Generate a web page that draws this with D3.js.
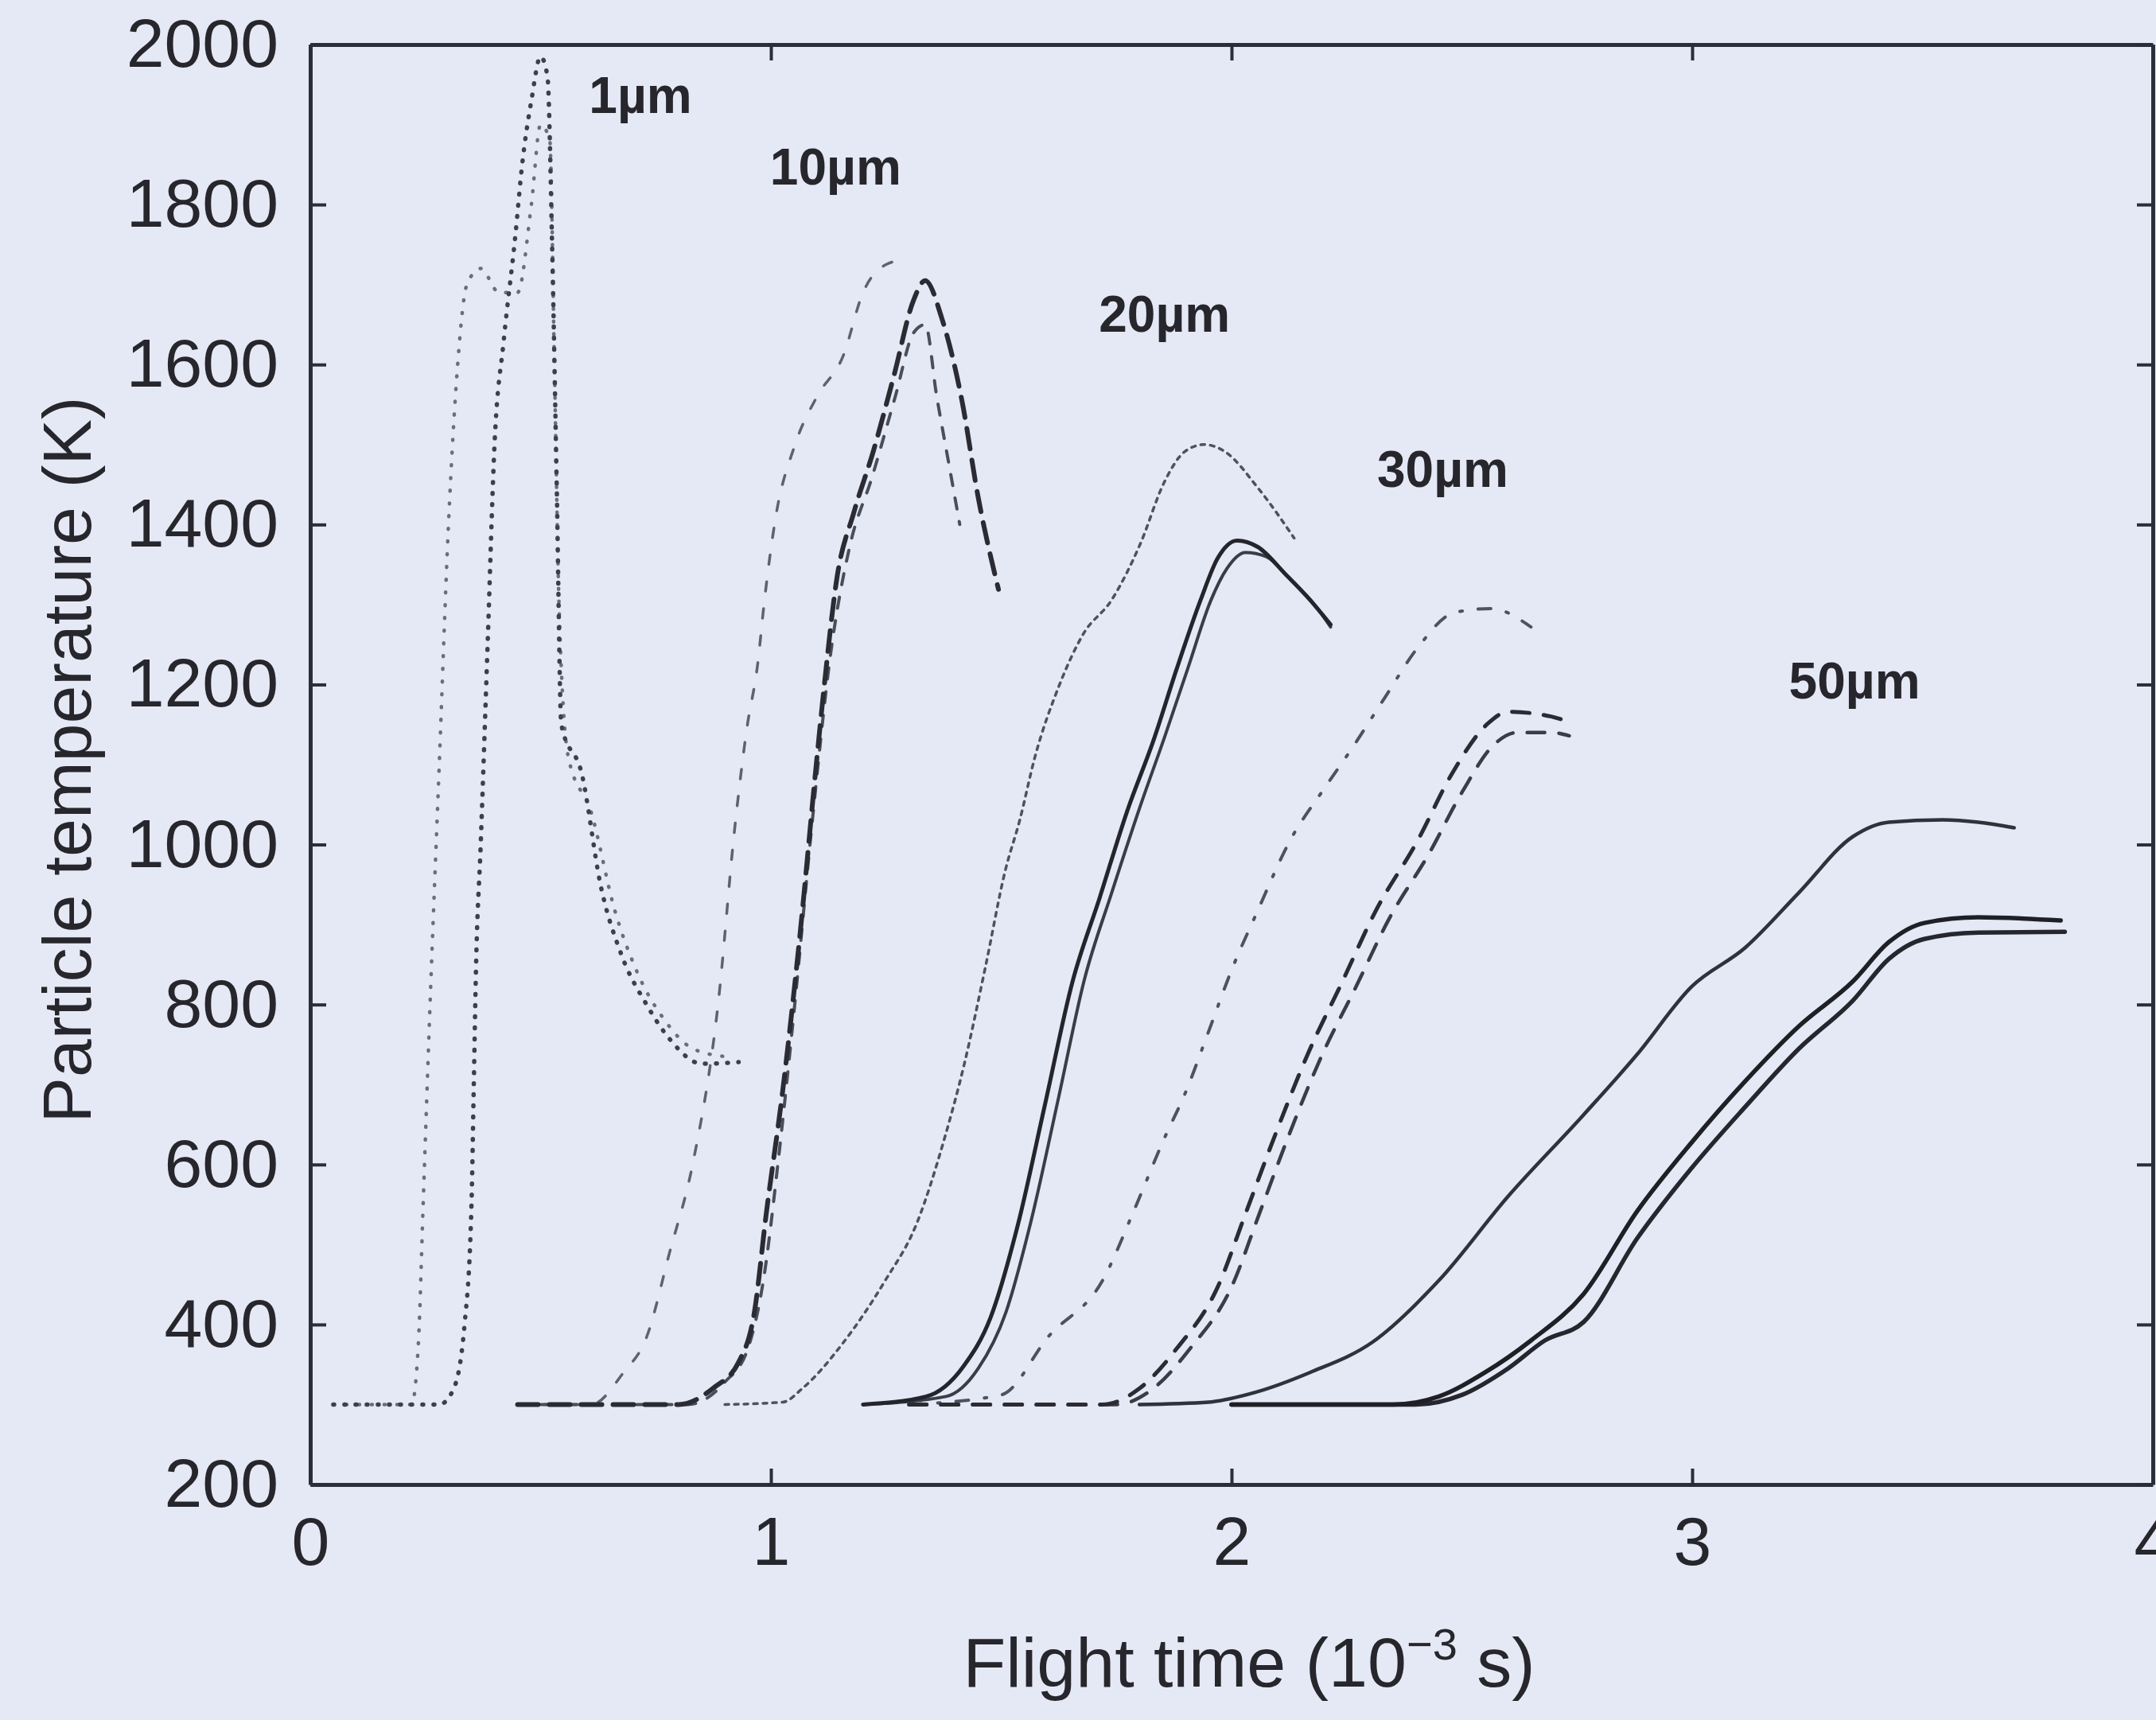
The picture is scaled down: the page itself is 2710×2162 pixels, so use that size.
<!DOCTYPE html>
<html>
<head>
<meta charset="utf-8">
<script src="https://cdn.jsdelivr.net/npm/d3@7"></script>
<style>
  body { margin: 0; background: #e5e9f5; }
  svg { display: block; }
  text { font-family: "Liberation Sans", Arial, Helvetica, sans-serif; fill: #26262c; }
  .axis path, .axis line { stroke: #2b2d38; }
  .axis path { stroke-width: 5; }
  .axis line { stroke-width: 4; }
  .axis text { font-size: 86px; fill: #26262c; }
  .curve { fill: none; stroke-linecap: round; stroke-linejoin: round; }
</style>
</head>
<body>
<svg id="chart" width="2710" height="2162"></svg>
<script>
// flight time (10^-3 s), particle temperature (K)

// 1 um  (dotted)
var d1a = [[0.05,300],[0.28,300],[0.31,318],[0.335,400],[0.35,550],[0.355,700],[0.36,850],[0.37,1000],[0.385,1250],[0.40,1500],[0.42,1630],[0.445,1760],[0.46,1850],[0.48,1930],[0.50,1985],[0.515,1960],[0.525,1750],[0.535,1450],[0.545,1150],[0.59,1087],[0.63,950],[0.675,863],[0.73,800],[0.78,757],[0.85,726],[0.93,728]];
var d1b = [[0.05,300],[0.22,300],[0.235,380],[0.245,550],[0.26,800],[0.28,1100],[0.30,1400],[0.32,1600],[0.34,1700],[0.37,1720],[0.41,1690],[0.45,1690],[0.48,1800],[0.50,1900],[0.52,1880],[0.53,1600],[0.54,1300],[0.56,1110],[0.61,1040],[0.66,920],[0.71,840],[0.77,780],[0.83,745],[0.90,735]];

// 10 um (dashed)
var d10a = [[0.45,300],[0.61,300],[0.68,340],[0.73,384],[0.78,490],[0.83,600],[0.886,804],[0.921,1018],[0.947,1142],[0.972,1229],[0.985,1300],[1.01,1408],[1.05,1496],[1.10,1560],[1.157,1611],[1.20,1690],[1.25,1725],[1.29,1731]];
var d10b = [[0.45,300],[0.80,300],[0.876,321],[0.93,353],[0.964,415],[0.99,539],[1.026,694],[1.062,881],[1.10,1109],[1.117,1205],[1.143,1332],[1.18,1415],[1.222,1491],[1.267,1586],[1.31,1681],[1.335,1705],[1.372,1656],[1.415,1554],[1.45,1434],[1.494,1319]];
var d10c = [[0.45,300],[0.82,300],[0.90,328],[0.95,370],[0.985,460],[1.015,600],[1.05,790],[1.09,1030],[1.13,1240],[1.17,1370],[1.22,1460],[1.27,1560],[1.31,1640],[1.335,1650],[1.36,1560],[1.385,1480],[1.41,1400]];

// 20 um
var d20a = [[0.90,300],[1.026,303],[1.07,321],[1.158,378],[1.246,453],[1.317,527],[1.377,633],[1.42,726],[1.465,845],[1.509,968],[1.54,1030],[1.573,1109],[1.626,1199],[1.678,1263],[1.74,1306],[1.802,1376],[1.854,1453],[1.898,1491],[1.94,1500],[1.986,1491],[2.057,1446],[2.136,1383]];
var d20b = [[1.20,300],[1.337,310],[1.417,347],[1.477,409],[1.535,522],[1.595,675],[1.654,827],[1.714,934],[1.773,1041],[1.831,1131],[1.88,1218],[1.933,1306],[1.969,1357],[2.012,1380],[2.057,1372],[2.117,1338],[2.17,1306],[2.215,1275]];
var d20c = [[1.20,300],[1.38,310],[1.45,345],[1.51,415],[1.565,530],[1.625,685],[1.68,830],[1.74,940],[1.80,1045],[1.855,1135],[1.905,1220],[1.955,1305],[1.99,1345],[2.03,1365],[2.075,1360],[2.13,1330],[2.18,1300],[2.215,1272]];

// 30 um
var d30a = [[1.30,300],[1.50,312],[1.604,386],[1.72,455],[1.79,545],[1.852,630],[1.90,690],[1.95,766],[2.00,843],[2.055,915],[2.127,1005],[2.20,1069],[2.26,1119],[2.332,1183],[2.404,1246],[2.484,1290],[2.563,1295],[2.65,1272]];
var d30b = [[1.30,300],[1.72,300],[1.80,320],[1.881,370],[1.97,447],[2.03,538],[2.09,630],[2.167,740],[2.24,828],[2.312,916],[2.404,1005],[2.477,1087],[2.556,1151],[2.60,1166],[2.694,1160],[2.733,1153]];
var d30c = [[1.30,300],[1.75,300],[1.83,320],[1.91,370],[2.00,447],[2.06,538],[2.12,630],[2.195,735],[2.27,822],[2.34,905],[2.43,990],[2.50,1065],[2.57,1125],[2.62,1140],[2.694,1140],[2.733,1136]];

// 50 um (solid)
var d50a = [[1.80,300],[1.95,303],[2.05,315],[2.17,340],[2.306,378],[2.45,455],[2.60,560],[2.764,662],[2.881,738],[2.998,822],[3.115,871],[3.232,940],[3.349,1010],[3.427,1028],[3.544,1031],[3.621,1028],[3.699,1021]];
var d50b = [[2.00,300],[2.35,300],[2.45,310],[2.55,340],[2.65,380],[2.764,438],[2.881,542],[2.998,627],[3.115,704],[3.232,773],[3.349,829],[3.427,878],[3.504,902],[3.621,909],[3.80,905]];
var d50c = [[2.00,300],[2.40,300],[2.50,312],[2.60,345],[2.68,380],[2.764,403],[2.881,508],[2.998,595],[3.115,672],[3.232,745],[3.349,805],[3.427,857],[3.504,882],[3.621,890],[3.809,891]];

var xTicks = [0, 1, 2, 3, 4];
var yTicks = [200, 400, 600, 800, 1000, 1200, 1400, 1600, 1800, 2000];

var sizeLabels = ["1µm", "10µm", "20µm", "30µm", "50µm"];
var labelAt = [[0.605, 1914], [0.998, 1825], [1.712, 1641], [2.316, 1447], [3.21, 1183]];

// line look for each curve
var curves = [
  { d: d1b,  color: "#6a6e7c", w: 4.5, dash: "1 15" },
  { d: d1a,  color: "#3c3f4c", w: 5.5, dash: "1 13" },
  { d: d10a, color: "#5e6270", w: 3.5, dash: "12 22" },
  { d: d10c, color: "#4a4d5a", w: 4,   dash: "14 16" },
  { d: d10b, color: "#2a2b33", w: 6,   dash: "26 14" },
  { d: d20a, color: "#4e5160", w: 3.5, dash: "5 7" },
  { d: d20c, color: "#3a3c46", w: 4,   dash: null },
  { d: d20b, color: "#24252c", w: 5,   dash: null },
  { d: d30a, color: "#4e5160", w: 4,   dash: "16 20 3 20" },
  { d: d30c, color: "#3a3c46", w: 4.5, dash: "22 18" },
  { d: d30b, color: "#2a2b33", w: 5,   dash: "22 18" },
  { d: d50a, color: "#30323b", w: 4.5, dash: null },
  { d: d50c, color: "#26272e", w: 5.5, dash: null },
  { d: d50b, color: "#1f2026", w: 5.5, dash: null }
];

var svg = d3.select("#chart"),
    width = +svg.attr("width"),
    height = +svg.attr("height");

var padL = 390, padR = 2706, padT = 56, padB = 1866;

var x = d3.scaleLinear().domain([0, 4]).range([padL, padR]);
var y = d3.scaleLinear().domain([200, 2000]).range([padB, padT]);

svg.append("rect")
    .attr("width", width).attr("height", height)
    .attr("fill", "#e5e9f5");

svg.append("clipPath").attr("id", "plot")
  .append("rect")
    .attr("x", padL).attr("y", padT)
    .attr("width", padR - padL).attr("height", padB - padT);

var line = d3.line()
    .x(function(d) { return x(d[0]); })
    .y(function(d) { return y(d[1]); })
    .curve(d3.curveMonotoneX);

svg.append("g")
    .attr("clip-path", "url(#plot)")
  .selectAll("path")
  .data(curves)
  .enter().append("path")
    .attr("class", "curve")
    .attr("d", function(c) { return line(c.d); })
    .attr("stroke", function(c) { return c.color; })
    .attr("stroke-width", function(c) { return c.w; })
    .attr("stroke-dasharray", function(c) { return c.dash; });

// axes, ticks pointing inwards on all four sides
svg.append("g")
    .attr("class", "axis")
    .attr("transform", "translate(0," + padB + ")")
    .call(d3.axisBottom(x).tickValues(xTicks).tickSize(-20).tickSizeOuter(0).tickPadding(40).tickFormat(d3.format("d")));

svg.append("g")
    .attr("class", "axis")
    .attr("transform", "translate(" + padL + ",0)")
    .call(d3.axisLeft(y).tickValues(yTicks).tickSize(-20).tickSizeOuter(0).tickPadding(40).tickFormat(d3.format("d")));

svg.append("g")
    .attr("class", "axis")
    .attr("transform", "translate(0," + padT + ")")
    .call(d3.axisTop(x).tickValues(xTicks).tickSize(-20).tickSizeOuter(0).tickFormat(""));

svg.append("g")
    .attr("class", "axis")
    .attr("transform", "translate(" + padR + ",0)")
    .call(d3.axisRight(y).tickValues(yTicks).tickSize(-20).tickSizeOuter(0).tickFormat(""));

svg.selectAll(".axis text").attr("fill", "#26262c");

// size labels
svg.append("g")
  .selectAll("text")
  .data(sizeLabels)
  .enter().append("text")
    .attr("x", function(d, i) { return x(labelAt[i][0]); })
    .attr("y", function(d, i) { return y(labelAt[i][1]); })
    .attr("font-size", 64)
    .attr("font-weight", "bold")
    .attr("fill", "#2a2a30")
    .text(function(d) { return d; });

// axis titles
var xt = svg.append("text")
    .attr("x", 1570)
    .attr("y", 2120)
    .attr("text-anchor", "middle")
    .attr("font-size", 88);
xt.append("tspan").text("Flight time (10");
xt.append("tspan").attr("dy", -34).attr("font-size", 56).text("\u22123");
xt.append("tspan").attr("dy", 34).text(" s)");

svg.append("text")
    .attr("transform", "translate(114,955) rotate(-90)")
    .attr("text-anchor", "middle")
    .attr("font-size", 86)
    .text("Particle temperature (K)");
</script>
</body>
</html>
